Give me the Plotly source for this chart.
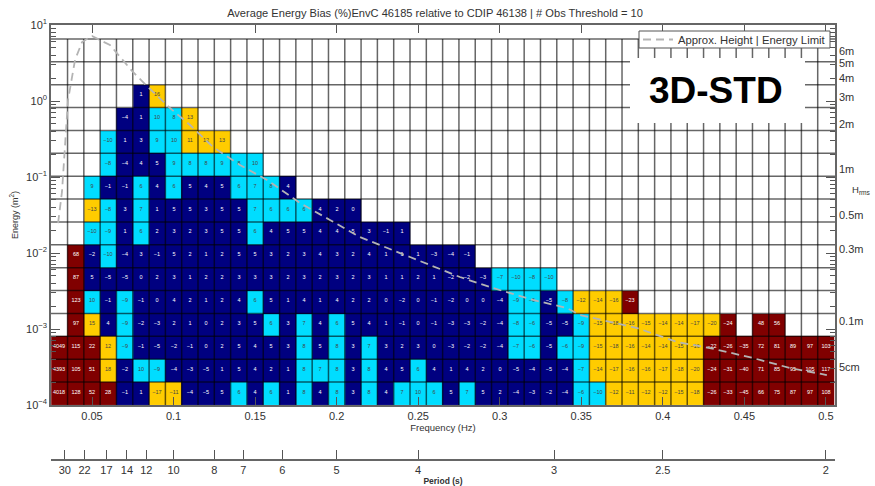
import numpy as np
import plotly.graph_objects as go

N = None
# first column is centred on 0.03 Hz; rows run from the lowest energy band upward
freq_centres = [round(0.03 + 0.01 * k, 2) for k in range(48)]
row_00 = [4018,128,52,28,-1,1,-17,-11,-4,-5,5,6,4,6,1,8,4,8,3,8,4,7,10,6,5,7,5,2,-4,-3,-2,-4,-6,-10,-12,-11,-12,-12,-15,-18,-26,-33,-45,66,75,87,97,108]
row_01 = [4393,105,51,18,-2,10,-9,-4,-3,-5,1,5,4,2,1,8,7,8,3,8,4,5,6,4,1,4,2,0,-5,-4,-5,-4,-7,-14,-17,-16,-16,-17,-18,-20,-24,-31,-40,71,85,95,105,117]
row_02 = [4049,115,22,12,-9,-1,-5,-2,-1,0,2,5,4,5,3,8,5,8,3,7,3,2,3,0,-3,-2,-2,-4,-7,-6,-5,-6,-9,-15,-18,-16,-14,-14,-15,-16,-22,-26,-35,72,81,89,97,103]
row_03 = [N,97,15,4,-9,-2,-3,2,1,0,2,3,5,6,3,7,4,6,5,4,1,-1,0,-1,-3,-3,-2,-4,-8,-6,-5,-5,-9,-15,-18,-16,-15,-14,-14,-17,-20,-24,N,48,56,N,N,N]
row_04 = [N,123,10,-1,-9,-1,0,4,2,1,2,4,6,5,1,4,1,4,2,2,0,-2,0,-1,-2,0,0,-4,-9,-6,-5,-8,-12,-14,-16,-23,N,N,N,N,N,N,N,N,N,N,N,N]
row_05 = [N,87,5,-5,-5,0,2,3,1,2,2,3,3,3,2,3,2,3,2,3,1,1,2,1,-2,-2,-3,-7,-10,-8,-10,N,N,N,N,N,N,N,N,N,N,N,N,N,N,N,N,N]
row_06 = [N,68,-2,-10,-4,3,-1,5,2,1,2,5,5,3,2,3,4,3,2,4,1,1,1,-3,-4,-1,N,N,N,N,N,N,N,N,N,N,N,N,N,N,N,N,N,N,N,N,N,N]
row_07 = [N,N,-10,-9,1,6,2,3,2,3,5,5,6,4,5,5,4,4,5,3,-1,1,N,N,N,N,N,N,N,N,N,N,N,N,N,N,N,N,N,N,N,N,N,N,N,N,N,N]
row_08 = [N,N,-13,-8,3,7,1,5,5,3,5,5,7,6,6,6,4,2,0,N,N,N,N,N,N,N,N,N,N,N,N,N,N,N,N,N,N,N,N,N,N,N,N,N,N,N,N,N]
row_09 = [N,N,9,-1,-1,6,4,6,5,4,5,6,7,8,4,N,N,N,N,N,N,N,N,N,N,N,N,N,N,N,N,N,N,N,N,N,N,N,N,N,N,N,N,N,N,N,N,N]
row_10 = [N,N,N,-8,-4,4,5,9,8,8,9,8,10,N,N,N,N,N,N,N,N,N,N,N,N,N,N,N,N,N,N,N,N,N,N,N,N,N,N,N,N,N,N,N,N,N,N,N]
row_11 = [N,N,N,-10,1,3,9,10,11,12,13,N,N,N,N,N,N,N,N,N,N,N,N,N,N,N,N,N,N,N,N,N,N,N,N,N,N,N,N,N,N,N,N,N,N,N,N,N]
row_12 = [N,N,N,N,-4,1,10,8,13,N,N,N,N,N,N,N,N,N,N,N,N,N,N,N,N,N,N,N,N,N,N,N,N,N,N,N,N,N,N,N,N,N,N,N,N,N,N,N]
row_13 = [N,N,N,N,N,1,16,N,N,N,N,N,N,N,N,N,N,N,N,N,N,N,N,N,N,N,N,N,N,N,N,N,N,N,N,N,N,N,N,N,N,N,N,N,N,N,N,N]
row_14 = [N] * 48
row_15 = [N] * 48
rows = [row_00,row_01,row_02,row_03,row_04,row_05,row_06,row_07,row_08,row_09,row_10,row_11,row_12,row_13,row_14,row_15]

curve_freq = [.0292,.0316,.0353,.0396,.0439,.05,.061,.0751,.0843,.0978,.1101,.1242,.1407,.1573,.1732,.1775,.1959,.2143,.245,.2756,.2959,.3204,.3412,.3492,.3842,.4087,.4289,.4553,.478,.5006]
curve_energy = [.0248,.0636,1.03,3.47,5.97,7.17,5.45,2.41,1.53,.81,.483,.248,.144,.0914,.053,.0455,.0272,.0162,.00885,.00483,.00346,.00241,.00189,.00153,.00103,.000675,.000562,.000415,.000307,.000248]

freq_ticks = [.05,.1,.15,.2,.25,.3,.35,.4,.45,.5]
freq_labels = ["0.05","0.1","0.15","0.2","0.25","0.3","0.35","0.4","0.45","0.5"]
period_ticks = [30,22,17,14,12,10,8,7,6,5,4,3,2.5,2]
height_m = [6,5,4,3,2,1,.5,.3,.1,.05]
height_labels = ["6m","5m","4m","3m","2m","1m","0.5m","0.3m","0.1m","5cm"]
decade_exponents = [1,0,-1,-2,-3,-4]

NAVY, CYAN, GOLD, RED = "#000080", "#00DDFF", "#FFCC00", "#800000"
INK = "#333333"
FONT = "Liberation Sans"

xrange_ = [0.02486, 0.5056]
yrange_ = [-4, 1]
y_edges = [1e-4 * 2 ** r for r in range(17)]
x_edges = [round(0.025 + 0.01 * k, 3) for k in range(49)]


def band(v):
    if v is None:
        return None
    a = abs(v)
    return 0 if a <= 5 else 1 if a <= 10 else 2 if a <= 20 else 3


z = [[band(v) for v in r] for r in rows]
txt = [["" if v is None else str(v).replace("-", "\u2212") for v in r] for r in rows]
scale = [[0, NAVY], [.25, NAVY], [.25, CYAN], [.5, CYAN], [.5, GOLD], [.75, GOLD], [.75, RED], [1, RED]]

fig = go.Figure()
fig.add_trace(go.Heatmap(x=x_edges, y=y_edges, z=z, text=txt, texttemplate="%{text}",
                         textfont=dict(size=5.5, family=FONT), colorscale=scale, zmin=0, zmax=4,
                         showscale=False, hoverongaps=False, showlegend=False))

# grid over the cells, at the cell edges
gx, gy = [], []
for e in x_edges[1:-1]:
    gx += [e, e, None]
    gy += [y_edges[0], y_edges[-1], None]
hx, hy = [], []
for e in y_edges[1:]:
    hx += [xrange_[0], xrange_[1], None]
    hy += [e, e, None]
for a, b in ((gx, gy), (hx, hy)):
    fig.add_trace(go.Scatter(x=a, y=b, mode="lines", line=dict(color="rgba(0,0,0,0.6)", width=1.5),
                             showlegend=False, hoverinfo="skip"))

fig.add_trace(go.Scatter(x=curve_freq, y=curve_energy, mode="lines", name="Approx. Height | Energy Limit",
                         line=dict(color="#B4B4B4", width=1.8, dash="8px,5px")))

# carrier for the period and H_rms axes
fig.add_trace(go.Scatter(x=[1 / p for p in period_ticks][:10], y=[h * h / 8 for h in height_m],
                         xaxis="x2", yaxis="y2", mode="markers", marker=dict(opacity=0),
                         showlegend=False, hoverinfo="skip"))

minor_vals = [m * 10.0 ** e for e in range(-4, 1) for m in range(2, 10)]
axis_common = dict(showline=True, linecolor="#666666", linewidth=1.5, showgrid=False, zeroline=False,
                   automargin=False, tickcolor="#555555", ticks="inside",
                   tickfont=dict(family=FONT, size=11, color=INK))
Y_DOMAIN = [55 / 435, 1]

fig.update_layout(
    width=875, height=486, margin=dict(l=51, r=40, t=25, b=26),
    paper_bgcolor="white", plot_bgcolor="white", font=dict(family=FONT, color=INK),
    title=dict(text="Average Energy Bias (%)EnvC 46185 relative to CDIP 46138 | # Obs Threshold = 10",
               x=435 / 875, xanchor="center", y=1 - 13 / 486, yanchor="middle", font=dict(size=11.1, family=FONT, color=INK)),
    xaxis=dict(axis_common, range=xrange_, domain=[0, 1], anchor="y", tickmode="array", tickvals=freq_ticks,
               ticktext=freq_labels, ticklen=8, mirror="ticks",
               title=dict(text="Frequency (Hz)", font=dict(size=9.5, family=FONT, color=INK), standoff=3)),
    yaxis=dict(axis_common, type="log", range=yrange_, domain=Y_DOMAIN, anchor="x", tickmode="array",
               tickvals=[10.0 ** e for e in decade_exponents],
               ticktext=["10<sup>%s</sup>" % str(e).replace("-", "\u2212") for e in decade_exponents],
               ticklen=9, mirror="ticks",
               minor=dict(ticks="inside", ticklen=5, tickcolor="#555555", tickmode="array", tickvals=minor_vals),
               title=dict(text="Energy (m<sup>2</sup>)", font=dict(size=9, family=FONT, color=INK), standoff=6)),
    xaxis2=dict(axis_common, overlaying="x", anchor="free", position=0, side="bottom", range=xrange_, domain=[0, 1],
                tickmode="array", tickvals=[1 / p for p in period_ticks], ticktext=[str(p) for p in period_ticks],
                ticklen=9, title=dict(text="<b>Period (s)</b>", font=dict(size=8.5, family=FONT, color=INK), standoff=2)),
    yaxis2=dict(overlaying="y", side="right", anchor="x", type="log", range=yrange_, domain=Y_DOMAIN,
                automargin=False, showgrid=False, zeroline=False, showline=False, ticks="", tickmode="array",
                tickvals=[h * h / 8 for h in height_m], ticktext=height_labels, ticklabelstandoff=3,
                tickfont=dict(family=FONT, size=11, color=INK)),
    legend=dict(x=(638 - 51) / 784, xanchor="left", y=(460 - 25) / 435, yanchor="top", bgcolor="rgba(0,0,0,0)",
                borderwidth=0, font=dict(size=11.3, family=FONT, color=INK)),
    shapes=[
        dict(type="rect", xref="paper", yref="paper", layer="above", x0=(630 - 51) / 784, x1=(805 - 51) / 784,
             y0=(460 - 123) / 435, y1=(460 - 58) / 435, fillcolor="white", line=dict(width=0)),
        dict(type="rect", xref="paper", yref="paper", layer="above", x0=(639 - 51) / 784, x1=(830 - 51) / 784,
             y0=(460 - 48) / 435, y1=(460 - 31) / 435, fillcolor="white", line=dict(width=1, color="#555555")),
    ],
    annotations=[
        dict(text="<b>3D-STD</b>", xref="paper", yref="paper", x=(716 - 51) / 784, y=(460 - 91) / 435,
             xanchor="center", yanchor="middle", showarrow=False, font=dict(size=37, family=FONT, color="black")),
        dict(text="H<sub>rms</sub>", xref="paper", yref="paper", x=(861 - 51) / 784, y=(460 - 190) / 435,
             xanchor="center", yanchor="middle", showarrow=False, font=dict(size=9.5, family=FONT, color=INK)),
    ],
)
fig.write_html("out.html", post_script="document.body.style.margin='0';", config=dict(displayModeBar=False))
